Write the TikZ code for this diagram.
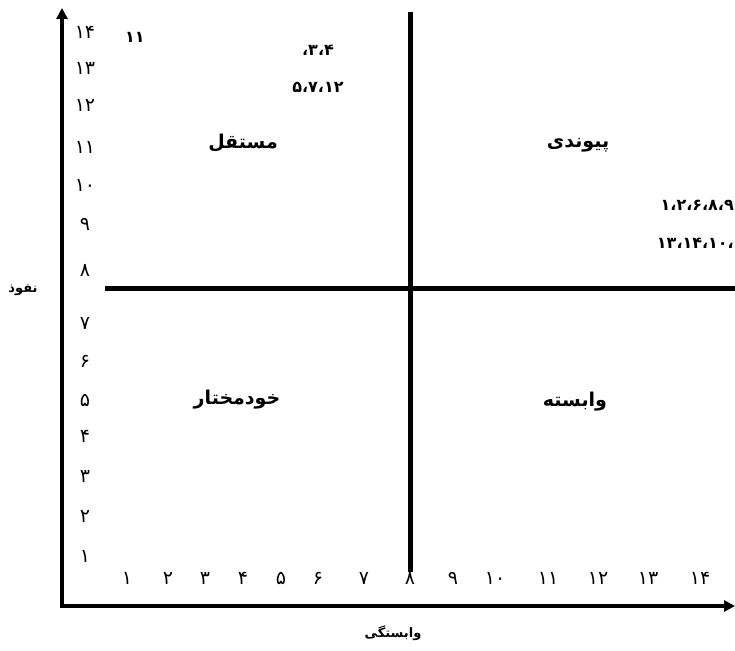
\documentclass[tikz,border=0pt]{standalone}
\usepackage{fontspec}
\newfontfamily\fa[Script=Arabic]{DejaVu Sans}
\TeXXeTstate=1
\usetikzlibrary{arrows.meta}
\begin{document}
\begin{tikzpicture}[x=1pt,y=-1pt,
  axis/.style={line width=3.5pt,-{Triangle[length=11pt,width=11pt]}},
  quad/.style={line width=5pt},
  tick/.style={font=\fa\fontsize{19}{19}\selectfont,inner sep=0pt},
  lab/.style={font=\fa\bfseries\fontsize{19}{19}\selectfont,inner sep=0pt},
  dat/.style={font=\fa\bfseries\fontsize{16}{16}\selectfont,inner sep=0pt},
  ttl/.style={font=\fa\bfseries\fontsize{13}{13}\selectfont,inner sep=0pt}]
\useasboundingbox (0,0) rectangle (735,650);
% axes
\coordinate (o) at (62,606);
\coordinate (ytop) at (62,8);
\coordinate (xend) at (735,606);
\draw[axis] (62,608) -- (ytop);
\draw[axis] (60,606) -- (xend);
% quadrant lines
\coordinate (vt) at (410,12);
\coordinate (vb) at (410,572);
\coordinate (hl) at (105,288);
\coordinate (hr) at (735,288);
\draw[quad] (vt) -- (vb);
\draw[quad] (hl) -- (hr);
% y ticks
\node[tick] (y14) at (85,32) {۱۴};
\node[tick] (y13) at (85,68) {۱۳};
\node[tick] (y12) at (85,105) {۱۲};
\node[tick] (y11) at (85,147) {۱۱};
\node[tick] (y10) at (85,185) {۱۰};
\node[tick] (y9) at (85,224) {۹};
\node[tick] (y8) at (85,270) {۸};
\node[tick] (y7) at (85,323) {۷};
\node[tick] (y6) at (85,361) {۶};
\node[tick] (y5) at (85,400) {۵};
\node[tick] (y4) at (85,436) {۴};
\node[tick] (y3) at (85,476) {۳};
\node[tick] (y2) at (85,516) {۲};
\node[tick] (y1) at (85,556) {۱};
% x ticks
\node[tick] (x1) at (127,578) {۱};
\node[tick] (x2) at (168,578) {۲};
\node[tick] (x3) at (205,578) {۳};
\node[tick] (x4) at (243,578) {۴};
\node[tick] (x5) at (281,578) {۵};
\node[tick] (x6) at (318,578) {۶};
\node[tick] (x7) at (364,578) {۷};
\node[tick] (x8) at (410,578) {۸};
\node[tick] (x9) at (453,578) {۹};
\node[tick] (x10) at (495,578) {۱۰};
\node[tick] (x11) at (548,578) {۱۱};
\node[tick] (x12) at (598,578) {۱۲};
\node[tick] (x13) at (648,578) {۱۳};
\node[tick] (x14) at (700,578) {۱۴};
% axis titles
\node[ttl] (ylab) at (23,290) {\beginR نفوذ\endR};
\node[ttl] (xlab) at (393,633) {\beginR وابستگی\endR};
% quadrant labels
\node[lab] (q1) at (243,143) {\beginR مستقل\endR};
\node[lab] (q2) at (578,145) {\beginR پیوندی\endR};
\node[lab] (q3) at (237,400) {\beginR خودمختار\endR};
\node[lab] (q4) at (575,402) {\beginR وابسته\endR};
% data
\node[dat] (d11) at (135,37) {۱۱};
\node[dat] (da) at (318,50) {۳،۴،};
\node[dat] (db) at (318,87) {۵،۷،۱۲};
\node[dat,anchor=east] (dc) at (734,205) {۱،۲،۶،۸،۹};
\node[dat,anchor=east] (dd) at (734,243) {،۱۳،۱۴،۱۰};
\end{tikzpicture}
\end{document}
